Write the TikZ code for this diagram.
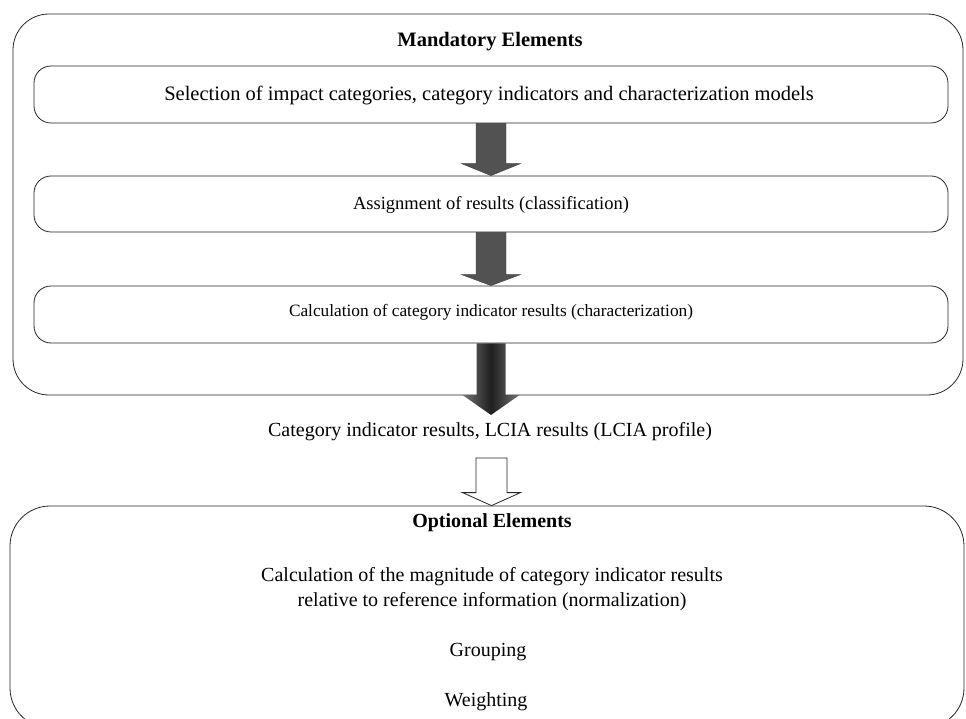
\documentclass[tikz,border=0pt]{standalone}
\usepackage{fontspec}
\setmainfont{Liberation Serif}
\usetikzlibrary{calc}
\tikzset{
  boxline/.style={draw=black!85, line width=0.8pt},
  bigbox/.style={boxline, rounded corners=36pt, inner sep=0pt},
  stagebox/.style={boxline, rounded corners=17pt, minimum width=914pt, minimum height=57pt, inner sep=0pt},
  txt/.style={font=\fontsize{20}{25}\selectfont, inner sep=0pt, align=center},
  smalltxt/.style={font=\fontsize{18.5}{23}\selectfont, inner sep=0pt, align=center},
  titletxt/.style={font=\fontsize{20}{25}\selectfont\bfseries, inner sep=0pt, align=center},
  darkarrow/.style={fill=black!68, draw=black!75, line width=0.4pt},
  hollowarrow/.style={fill=white, draw=black!85, line width=0.8pt, line join=miter},
}
\newcommand{\blkarrow}[6]{% from, to, shaft half, head half, head length, style
  \path[#6] ($(#1)+(-#3,0)$) -- ($(#2)+(-#3,-#5)$) -- ($(#2)+(-#4,-#5)$) -- (#2)
    -- ($(#2)+(#4,-#5)$) -- ($(#2)+(#3,-#5)$) -- ($(#1)+(#3,0)$) -- cycle;}
\begin{document}
\begin{tikzpicture}[x=1pt,y=-1pt]
\useasboundingbox (0,0) rectangle (966,719);
\clip (0,0) rectangle (966,719);
% outer mandatory box
\node[bigbox, minimum width=950pt, minimum height=381pt] (mand) at (488,204.5) {};
\node[titletxt, font=\fontsize{20.5}{25}\selectfont\bfseries] (mtitle) at (490,42) {Mandatory Elements};
% stages
\node[stagebox] (b1) at (491,94.5) {};
\node[txt, font=\fontsize{20.5}{25}\selectfont] (t1) at (489,95) {Selection of impact categories, category indicators and characterization models};
\node[stagebox, minimum height=56pt] (b2) at (491,204) {};
\node[smalltxt] (t2) at (491,205) {Assignment of results (classification)};
\node[stagebox] (b3) at (491,314.5) {};
\node[smalltxt, font=\fontsize{17.3}{22}\selectfont] (t3) at (491,312) {Calculation of category indicator results (characterization)};
% dark arrows
\blkarrow{b1.south}{b2.north}{15}{29.5}{12}{darkarrow}
\blkarrow{b2.south}{b3.north}{15}{29.5}{11}{darkarrow}
\coordinate (a3tip) at (491,415);
\shade[left color=black!55, right color=black!55, middle color=black!88]
  ($(b3.south)+(-14.5,0)$) -- ($(a3tip)+(-14.5,-20)$) -- ($(a3tip)+(-28.5,-20)$) -- (a3tip)
  -- ($(a3tip)+(28.5,-20)$) -- ($(a3tip)+(14.5,-20)$) -- ($(b3.south)+(14.5,0)$) -- cycle;
% result text
\node[txt] (res) at (490,432) {Category indicator results, LCIA results (LCIA profile)};
% optional box
\node[bigbox, rounded corners=40pt, minimum width=954pt, minimum height=222pt] (opt) at (487,617) {};
\coordinate (h1) at (491.5,458);
\coordinate (h2) at ($(opt.north -| h1)$);
\blkarrow{h1}{h2}{15.5}{29}{13}{hollowarrow}
\node[titletxt] (otitle) at (492,523) {Optional Elements};
\node[txt] (norm) at (492,589) {Calculation of the magnitude of category indicator results\\relative to reference information (normalization)};
\node[txt] (grp) at (488,652) {Grouping};
\node[txt] (wgt) at (486,702) {Weighting};
\end{tikzpicture}
\end{document}
